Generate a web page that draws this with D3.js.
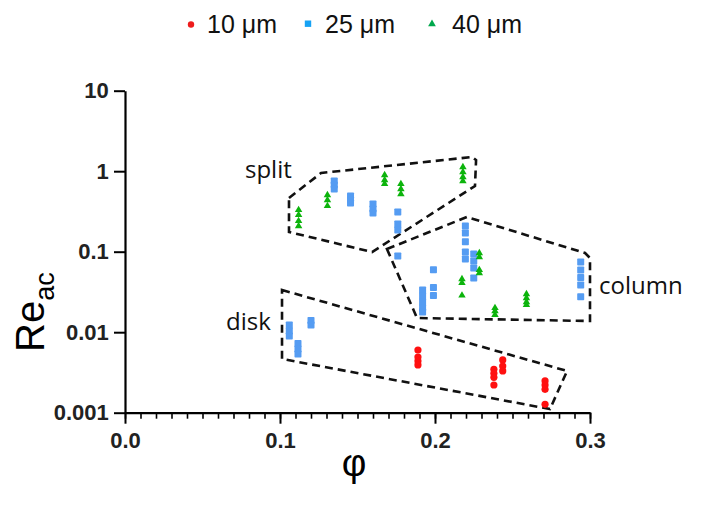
<!DOCTYPE html>
<html><head><meta charset="utf-8">
<script src="https://cdn.jsdelivr.net/npm/d3@7"></script>
<style>
html,body{margin:0;padding:0;background:#fff;}
svg{display:block;}
</style></head>
<body>
<script>
// ---- data ----
const xTicks = [0, 0.1, 0.2, 0.3];
const xTickLabels = ["0.0", "0.1", "0.2", "0.3"];
const yTicks = [0.001, 0.01, 0.1, 1, 10];
const yTickLabels = ["0.001", "0.01", "0.1", "1", "10"];
const legendLabels = ["10 μm", "25 μm", "40 μm"];

const red10 = [
  [0.189,0.00601],[0.189,0.00492],[0.189,0.00439],[0.189,0.00392],
  [0.238,0.00346],[0.238,0.00308],[0.238,0.00275],[0.238,0.00221],
  [0.2437,0.00452],[0.2437,0.00380],[0.2437,0.00330],
  [0.271,0.00248],[0.271,0.00221],[0.271,0.00195],[0.271,0.00127]
];
const blue25 = [
  [0.135,0.755],[0.135,0.674],[0.135,0.601],
  [0.1455,0.492],[0.1455,0.439],[0.1455,0.403],
  [0.160,0.391],[0.160,0.339],[0.160,0.303],
  [0.176,0.311],[0.176,0.221],[0.176,0.186],[0.176,0.0885],
  [0.192,0.0335],[0.192,0.0282],[0.192,0.0237],[0.192,0.0200],[0.192,0.0178],
  [0.199,0.0598],[0.199,0.0359],[0.199,0.0286],
  [0.2196,0.208],[0.2196,0.171],[0.2196,0.133],[0.2196,0.0991],[0.2196,0.0811],
  [0.225,0.0936],[0.225,0.0766],[0.225,0.0627],[0.225,0.0471],
  [0.294,0.0745],[0.294,0.0593],[0.294,0.0478],[0.294,0.0386],[0.294,0.0276],
  [0.106,0.01228],[0.106,0.01035],[0.106,0.00897],
  [0.1116,0.00724],[0.1116,0.00618],[0.1116,0.00536],
  [0.120,0.01397],[0.120,0.01228]
];
const green40 = [
  [0.112,0.330],[0.112,0.286],[0.112,0.241],[0.112,0.208],
  [0.1306,0.506],[0.1306,0.439],[0.1306,0.370],
  [0.1675,0.897],[0.1675,0.778],[0.1675,0.694],
  [0.178,0.694],[0.178,0.601],[0.178,0.521],
  [0.218,1.127],[0.218,0.977],[0.218,0.847],[0.218,0.755],
  [0.2286,0.0964],[0.2286,0.0859],[0.2286,0.0593],[0.2286,0.0544],
  [0.2174,0.0458],[0.2174,0.0409],[0.2174,0.0286],
  [0.259,0.0298],[0.259,0.0266],[0.259,0.0237],[0.259,0.0218],
  [0.2387,0.0200],[0.2387,0.0183],[0.2387,0.0164]
];

const splitRegion = [[0.1058,0.4645],[0.1265,0.950],[0.2239,1.501],[0.2265,1.377],[0.2258,0.655],[0.1594,0.0991],[0.1058,0.176]];
const columnRegion = [[0.1690,0.108],[0.2206,0.270],[0.2968,0.0964],[0.3000,0.0835],[0.3000,0.01377],[0.1884,0.0150]];
const diskRegion = [[0.1013,0.0334],[0.2852,0.00330],[0.2742,0.00111],[0.1013,0.00465]];
const regionLabels = [["split",0.0774,0.823],["column",0.3058,0.0298],["disk",0.0652,0.01064]];

// ---- chart ----
const W = 702, H = 508;
const svg = d3.select("body").append("svg").attr("width", W).attr("height", H);

const x = d3.scaleLinear().domain([0, 0.3]).range([125, 590]);
const y = d3.scaleLog().domain([0.001, 10]).range([412.7, 90.7]);

const tickFont = "'Liberation Sans', Arial, sans-serif";

// x minor ticks
const minor = d3.range(0, 31).map(i => i / 100);
svg.append("g").attr("transform", "translate(0,412.7)")
  .call(d3.axisBottom(x).tickValues(minor).tickSize(6).tickFormat(""))
  .call(g => g.select(".domain").remove())
  .call(g => g.selectAll("line").attr("stroke", "#000").attr("stroke-width", 1.6));

const xAxis = svg.append("g").attr("transform", "translate(0,412.7)")
  .call(d3.axisBottom(x).tickValues(xTicks).tickSize(11).tickSizeOuter(0)
    .tickFormat((d, i) => xTickLabels[i]));
xAxis.select(".domain").attr("stroke", "#000").attr("stroke-width", 2.2);
xAxis.selectAll("line").attr("stroke", "#000").attr("stroke-width", 2);
xAxis.selectAll("text").attr("font-family", tickFont).attr("font-weight", "bold")
  .attr("font-size", 22).attr("fill", "#222").attr("dy", "0.95em");

const yAxis = svg.append("g").attr("transform", "translate(125,0)")
  .call(d3.axisLeft(y).tickValues(yTicks).tickSize(11).tickSizeOuter(0)
    .tickFormat((d, i) => yTickLabels[i]));
yAxis.select(".domain").attr("stroke", "#000").attr("stroke-width", 2.2);
yAxis.selectAll("line").attr("stroke", "#000").attr("stroke-width", 2);
yAxis.selectAll("text").attr("font-family", tickFont).attr("font-weight", "bold")
  .attr("font-size", 22).attr("fill", "#222").attr("dx", "-0.1em");

// region polygons
const line = d3.line().x(d => x(d[0])).y(d => y(d[1])).curve(d3.curveLinearClosed);
[splitRegion, columnRegion, diskRegion].forEach(r => {
  svg.append("path").attr("d", line(r)).attr("fill", "none")
    .attr("stroke", "#111").attr("stroke-width", 2.6).attr("stroke-dasharray", "8,5");
});

// markers
const cRed = "#ff1010", cBlue = "#559cf2", cGreen = "#0cb40c";
svg.append("g").selectAll("circle").data(red10).join("circle")
  .attr("cx", d => x(d[0])).attr("cy", d => y(d[1])).attr("r", 3.6).attr("fill", cRed);
svg.append("g").selectAll("rect").data(blue25).join("rect")
  .attr("x", d => x(d[0]) - 3.5).attr("y", d => y(d[1]) - 3.5)
  .attr("width", 7).attr("height", 7).attr("rx", 0.8).attr("fill", cBlue);
const tri = d3.symbol(d3.symbolTriangle, 24);
svg.append("g").selectAll("path").data(green40).join("path")
  .attr("d", tri).attr("transform", d => `translate(${x(d[0])},${y(d[1])})`).attr("fill", cGreen);

// region labels
svg.append("g").selectAll("text").data(regionLabels).join("text")
  .attr("x", d => x(d[1])).attr("y", d => y(d[2]))
  .attr("font-family", "'Open Sans', 'Noto Sans', sans-serif").attr("font-size", 24)
  .attr("fill", "#111").text(d => d[0]);

// axis titles
svg.append("text").attr("x", 354).attr("y", 476).attr("text-anchor", "middle")
  .attr("font-family", "'Liberation Sans', Arial, sans-serif").attr("font-size", 38)
  .attr("fill", "#000").text("φ");

const yt = svg.append("text").attr("transform", "translate(44,352) rotate(-90)")
  .attr("font-family", "'Liberation Sans', Arial, sans-serif").attr("fill", "#000");
yt.append("tspan").attr("font-size", 40).text("Re");
yt.append("tspan").attr("font-size", 27).attr("dy", 10).text("ac");

// legend
const lg = svg.append("g").attr("font-family", "'Liberation Sans', Arial, sans-serif");
const legX = [191, 308, 432];
const legTX = [207, 325, 452];
lg.append("circle").attr("cx", legX[0]).attr("cy", 24.5).attr("r", 3.2).attr("fill", "#ee1c1c");
lg.append("rect").attr("x", legX[1] - 3.2).attr("y", 20.5).attr("width", 6.4).attr("height", 6.4).attr("fill", "#16a2f4");
lg.append("path").attr("d", d3.symbol(d3.symbolTriangle, 26)).attr("transform", `translate(${legX[2]},24)`).attr("fill", "#00a84c");
legendLabels.forEach((t, i) => {
  lg.append("text").attr("x", legTX[i]).attr("y", 33).attr("font-size", 25).attr("fill", "#111").text(t);
});
</script>
</body></html>
